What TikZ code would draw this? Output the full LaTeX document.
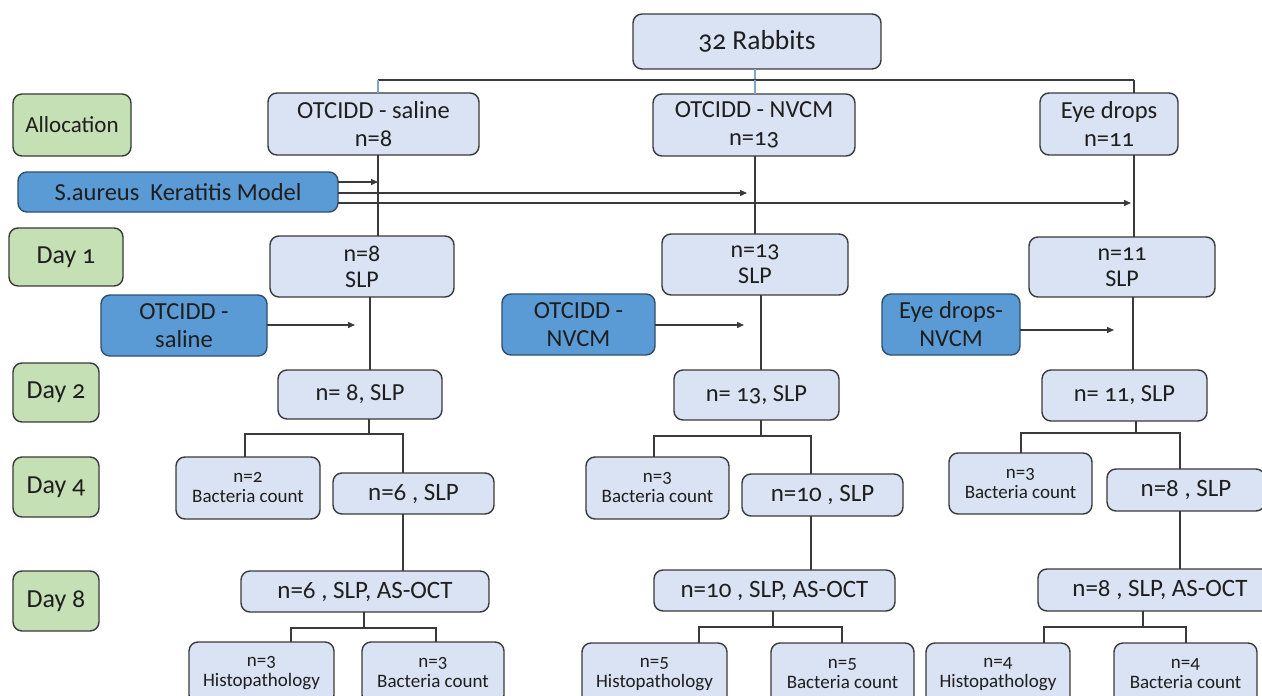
\documentclass[tikz,border=0pt]{standalone}
\usepackage{fontspec}
\setmainfont{Carlito}[Numbers=OldStyle]
\usetikzlibrary{arrows.meta}
\definecolor{lightb}{HTML}{DAE3F3}
\definecolor{greenb}{HTML}{C5E0B4}
\definecolor{darkb}{HTML}{5B9BD5}
\definecolor{darkbd}{HTML}{2F4F6F}
\definecolor{linec}{HTML}{3A3A3A}
\definecolor{bluelc}{HTML}{7FA7C9}
\definecolor{txt}{HTML}{1E1E1E}
\newcommand\mybox[7]{%
  \pgfmathsetmacro\bxw{#5-#3}\pgfmathsetmacro\bxh{#6-#4}%
  \pgfmathsetmacro\bxx{(#3+#5)/2}\pgfmathsetmacro\bxy{(#4+#6)/2}%
  \node[#2,minimum width=\bxw pt,minimum height=\bxh pt] (#1) at (\bxx,\bxy) {#7};}
\tikzset{
  base/.style={draw=linec, line width=1.4pt, rounded corners=9pt, inner sep=0pt,
    outer sep=0pt, align=center, text=txt},
  lbox/.style={base, fill=lightb},
  gbox/.style={base, fill=greenb, font=\fontsize{26}{30}\selectfont},
  dbox/.style={base, fill=darkb, draw=darkbd, font=\fontsize{24.5}{28}\selectfont},
  fmain/.style={font=\fontsize{24.5}{28}\selectfont},
  fday/.style={font=\fontsize{24}{26}\selectfont},
  fbig/.style={font=\fontsize{25}{28}\selectfont},
  fsmall/.style={font=\fontsize{19}{20}\selectfont},
  conn/.style={draw=linec, line width=1.4pt},
  bconn/.style={draw=bluelc, line width=1.4pt},
  arr/.style={conn, -{Triangle[length=7pt,width=6pt]}},
}
\begin{document}
\begin{tikzpicture}[x=1pt,y=-1pt]
\useasboundingbox (0,0) rectangle (1262,696);
\fill[white] (0,0) rectangle (1262,696);
% left labels
\mybox{alloc}{gbox,font=\fontsize{23}{28}\selectfont}{13}{94}{131}{156}{Allocation}
\mybox{day1}{gbox}{9}{228}{123}{286}{Day 1}
\mybox{day2}{gbox}{13}{363}{99}{422}{Day 2}
\mybox{day4}{gbox}{13}{457}{99}{517}{Day 4}
\mybox{day8}{gbox}{13}{571}{99}{631}{Day 8}
% top
\mybox{rab}{lbox,font=\fontsize{27.5}{30}\selectfont}{633}{14}{881}{69}{32 Rabbits}
\mybox{g1}{lbox,fmain}{268}{93}{479}{155}{OTCIDD - saline\\n=8}
\mybox{g2}{lbox,fmain}{653}{94}{855}{156}{OTCIDD - NVCM\\n=13}
\mybox{g3}{lbox,fmain}{1040}{93}{1178}{155}{Eye drops\\n=11}
\mybox{sa}{dbox}{18}{172}{338}{212}{S.aureus\ \ Keratitis Model}
% day 1
\mybox{d1a}{lbox,fday}{270}{236}{454}{297}{n=8\\SLP}
\mybox{d1b}{lbox,fday}{662}{234}{848}{295}{n=13\\SLP}
\mybox{d1c}{lbox,fday}{1029}{237}{1215}{297}{n=11\\SLP}
\mybox{t1}{dbox}{101}{295}{267}{356}{OTCIDD -\\saline}
\mybox{t2}{dbox}{502}{294}{655}{355}{OTCIDD -\\NVCM}
\mybox{t3}{dbox}{882}{294}{1020}{355}{Eye drops-\\NVCM}
% day 2
\mybox{d2a}{lbox,fmain}{278}{370}{442}{419}{n= 8, SLP}
\mybox{d2b}{lbox,fmain}{674}{370}{839}{420}{n= 13, SLP}
\mybox{d2c}{lbox,fmain}{1042}{370}{1207}{421}{n= 11, SLP}
% day 4
\mybox{b4a}{lbox,fsmall}{176}{457}{320}{519}{n=2\\Bacteria count}
\mybox{d4a}{lbox,fbig}{333}{473}{494}{514}{n=6 , SLP}
\mybox{b4b}{lbox,fsmall}{586}{457}{729}{519}{n=3\\Bacteria count}
\mybox{d4b}{lbox,fbig}{742}{474}{903}{516}{n=10 , SLP}
\mybox{b4c}{lbox,fsmall}{949}{453}{1092}{514}{n=3\\Bacteria count}
\mybox{d4c}{lbox,fbig}{1107}{469}{1265}{511}{n=8 , SLP}
% day 8
\mybox{d8a}{lbox,fbig}{241}{571}{489}{612}{n=6 , SLP, AS-OCT}
\mybox{d8b}{lbox,fbig}{654}{570}{895}{611}{n=10 , SLP, AS-OCT}
\mybox{d8c}{lbox,fbig}{1038}{569}{1282}{611}{n=8 , SLP, AS-OCT}
% bottom
\mybox{h1}{lbox,fsmall}{189}{642}{334}{704}{n=3\\Histopathology}
\mybox{c1}{lbox,fsmall}{362}{642}{504}{704}{n=3\\Bacteria count}
\mybox{h2}{lbox,fsmall}{582}{643}{727}{705}{n=5\\Histopathology}
\mybox{c2}{lbox,fsmall}{771}{643}{914}{705}{n=5\\Bacteria count}
\mybox{h3}{lbox,fsmall}{926}{643}{1070}{705}{n=4\\Histopathology}
\mybox{c3}{lbox,fsmall}{1114}{643}{1257}{705}{n=4\\Bacteria count}
% ---------- connectors ----------
\coordinate (tA) at (378,80);
\coordinate (tB) at (755,80);
\coordinate (tC) at (1134,80);
\draw[bconn] (rab.south -| tB) -- (tB);
\draw[conn] (tA) -- (tC);
\draw[bconn] (tA) -- (tA |- g1.north);
\draw[bconn] (tB) -- (tB |- g2.north);
\draw[conn] (tC) -- (tC |- g3.north);
\draw[conn] (g1.south -| tA) -- (d1a.north -| tA);
\draw[conn] (g2.south -| tB) -- (d1b.north -| tB);
\draw[conn] (g3.south -| tC) -- (d1c.north -| tC);
% S.aureus arrows
\coordinate (aA) at (378,182);
\coordinate (aB) at (747,193);
\coordinate (aC) at (1131,203);
\draw[arr] (sa.east |- aA) -- (aA);
\draw[arr] (sa.east |- aB) -- (aB);
\draw[arr] (sa.east |- aC) -- (aC);
% treatment arrows
\coordinate (r1) at (355,325);
\coordinate (r2) at (744,325);
\coordinate (r3) at (1114,330);
\draw[arr] (t1.east |- r1) -- (r1);
\draw[arr] (t2.east |- r2) -- (r2);
\draw[arr] (t3.east |- r3) -- (r3);
% day1 -> day2
\coordinate (vA) at (370,0);
\coordinate (vB) at (761,0);
\coordinate (vC) at (1133,0);
\draw[conn] (d1a.south -| vA) -- (d2a.north -| vA);
\draw[conn] (d1b.south -| vB) -- (d2b.north -| vB);
\draw[conn] (d1c.south -| vC) -- (d2c.north -| vC);
% day2 branches
\coordinate (jA) at (369,434);
\coordinate (jAl) at (245,434);
\coordinate (jAr) at (403,434);
\draw[conn] (d2a.south -| jA) -- (jA);
\draw[conn] (b4a.north -| jAl) -- (jAl) -- (jAr) -- (d4a.north -| jAr);
\coordinate (jB) at (761,436);
\coordinate (jBl) at (654,436);
\coordinate (jBr) at (811,436);
\draw[conn] (d2b.south -| jB) -- (jB);
\draw[conn] (b4b.north -| jBl) -- (jBl) -- (jBr) -- (d4b.north -| jBr);
\coordinate (jC) at (1136,433);
\coordinate (jCl) at (1021,433);
\coordinate (jCr) at (1180,433);
\draw[conn] (d2c.south -| jC) -- (jC);
\draw[conn] (b4c.north -| jCl) -- (jCl) -- (jCr) -- (d4c.north -| jCr);
% day4 -> day8
\draw[conn] (d4a.south -| jAr) -- (d8a.north -| jAr);
\draw[conn] (d4b.south -| jBr) -- (d8b.north -| jBr);
\draw[conn] (d4c.south -| jCr) -- (d8c.north -| jCr);
% day8 branches
\coordinate (kA) at (364,628);
\coordinate (kAl) at (291,628);
\coordinate (kAr) at (436,628);
\draw[conn] (d8a.south -| kA) -- (kA);
\draw[conn] (h1.north -| kAl) -- (kAl) -- (kAr) -- (c1.north -| kAr);
\coordinate (kB) at (773,627);
\coordinate (kBl) at (699,627);
\coordinate (kBr) at (842,627);
\draw[conn] (d8b.south -| kB) -- (kB);
\draw[conn] (h2.north -| kBl) -- (kBl) -- (kBr) -- (c2.north -| kBr);
\coordinate (kC) at (1143,627);
\coordinate (kCl) at (1044,627);
\coordinate (kCr) at (1186,627);
\draw[conn] (d8c.south -| kC) -- (kC);
\draw[conn] (h3.north -| kCl) -- (kCl) -- (kCr) -- (c3.north -| kCr);
\end{tikzpicture}
\end{document}
